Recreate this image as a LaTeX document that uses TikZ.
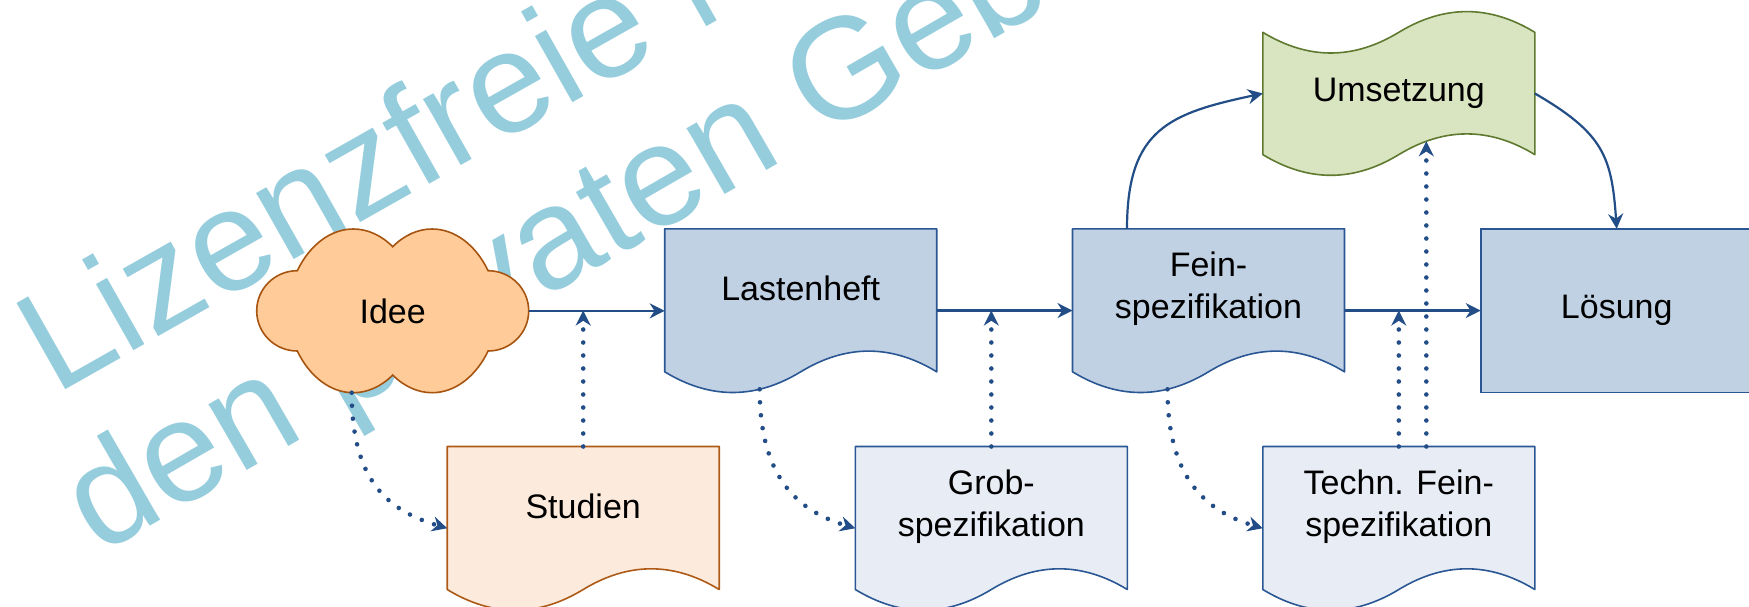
\documentclass[tikz,border=0pt]{standalone}
\usepackage{fontspec}
\setmainfont{Liberation Sans}
\usetikzlibrary{arrows.meta,calc}

\definecolor{link}{HTML}{224D86}
\definecolor{docfill}{HTML}{C1D1E4}
\definecolor{docline}{HTML}{2A5794}
\definecolor{paler}{HTML}{E8EDF5}
\definecolor{studfill}{HTML}{FCEBDC}
\definecolor{studline}{HTML}{AE5A16}
\definecolor{cloudfill}{HTML}{FFCB98}
\definecolor{cloudline}{HTML}{A65410}
\definecolor{tapefill}{HTML}{D9E4C1}
\definecolor{tapeline}{HTML}{5F7A2F}
\definecolor{wmark}{HTML}{95CDDD}

% document symbol: flat top, wavy bottom (272 x 163.7 px)
\newcommand\docshape[2]{%
  \path[#2,shift={(#1.north west)}] (0,0) -- (272,0) -- (272,143)
    .. controls (226.67,115.4) and (181.33,115.4) .. (136,143)
    .. controls (90.67,170.6) and (45.33,170.6) .. (0,143) -- cycle;}

\begin{document}
\begin{tikzpicture}[x=0.5pt,y=-0.5pt,
  slot/.style={minimum width=136pt,inner sep=0pt,outer sep=0pt},
  txt/.style={font=\fontsize{17}{20.8}\selectfont,align=center,inner sep=0pt},
  wm/.style={text=wmark,font=\fontsize{72}{86}\selectfont,inner sep=0pt,anchor=base west},
  blue doc/.style={fill=docfill,draw=docline,line width=0.8pt,line join=round},
  pale doc/.style={fill=paler,draw=docline,line width=0.8pt,line join=round},
  orange doc/.style={fill=studfill,draw=studline,line width=0.8pt,line join=round},
  flow/.style={draw=link,line width=1.1pt,-{Stealth[length=7.5pt,width=7.5pt,inset=2.4pt]}},
  hint/.style={draw=link,line width=2.3pt,line cap=round,dash pattern=on 0pt off 6.5pt,
               -{Stealth[length=7.5pt,width=7.5pt,inset=2.4pt]}},
]
\useasboundingbox (0,0) rectangle (1749,606);
\clip (0,0) rectangle (1749,606);

% background lettering
\node[wm,rotate=29.5] (wm1) at (55.6,395.2) {Lizenzfreie Nutzung};
\node[wm,rotate=30] (wm2) at (99,556) {den privaten Gebrauch};

% placeholders that carry the geometry of every symbol
\node[slot,minimum height=81.85pt] (idee) at (392.7,310.85) {};
\node[slot,minimum height=81.75pt] (last) at (800.7,310.55) {};
\node[slot,minimum height=81.75pt] (fein) at (1208.5,310.55) {};
\node[slot,minimum height=81.75pt] (stud) at (583.2,528.25) {};
\node[slot,minimum height=81.75pt] (grob) at (991.3,528.25) {};
\node[slot,minimum height=81.75pt] (tech) at (1398.8,528.25) {};
\node[slot,minimum height=84.15pt] (ums) at (1398.8,93.45) {};
\node[slot,minimum height=81.75pt,fill=docfill,draw=docline,line width=0.8pt,
      font=\fontsize{17}{20.8}\selectfont] (loes) at (1616.7,310.55) {Lösung};

% cloud
\path[fill=cloudfill,draw=cloudline,line width=0.8pt,shift={(idee.north west)}]
  (40.6,41.7) .. controls (53.17,15.59) and (74.2,0) .. (96.6,0)
  .. controls (110.7,0) and (124.53,6.15) .. (136,17.7)
  .. controls (147.47,6.15) and (161.3,0) .. (175.4,0)
  .. controls (197.8,0) and (218.83,15.59) .. (231.4,41.7)
  .. controls (253.82,41.7) and (272,59.7) .. (272,81.85)
  .. controls (272,104) and (253.82,122) .. (231.4,122)
  .. controls (218.83,148.11) and (197.8,163.7) .. (175.4,163.7)
  .. controls (161.3,163.7) and (147.47,157.55) .. (136,146)
  .. controls (124.53,157.55) and (110.7,163.7) .. (96.6,163.7)
  .. controls (74.2,163.7) and (53.17,148.11) .. (40.6,122)
  .. controls (18.18,122) and (0,104) .. (0,81.85)
  .. controls (0,59.7) and (18.18,41.7) .. (40.6,41.7) -- cycle;

% documents
\docshape{last}{blue doc}
\docshape{fein}{blue doc}
\docshape{stud}{orange doc}
\docshape{grob}{pale doc}
\docshape{tech}{pale doc}

% punched tape
\path[fill=tapefill,draw=tapeline,line width=0.8pt,line join=round,shift={(ums.north west)}]
  (0,23) .. controls (45.33,50.6) and (90.67,50.6) .. (136,23)
  .. controls (181.33,-4.6) and (226.67,-4.6) .. (272,23)
  -- (272,145.3) .. controls (226.67,117.7) and (181.33,117.7) .. (136,145.3)
  .. controls (90.67,172.9) and (45.33,172.9) .. (0,145.3) -- cycle;

% labels
\node[txt] (ideeT) at (idee.center) {Idee};
\node[txt] (lastT) at ($(last.north)+(0,60)$) {Lastenheft};
\node[txt] (feinT) at ($(fein.north)+(0,60)$) {Fein-\\spezifikation};
\node[txt] (studT) at ($(stud.north)+(0,60)$) {Studien};
\node[txt] (grobT) at ($(grob.north)+(0,60)$) {Grob-\\spezifikation};
\node[txt] (techT) at ($(tech.north)+(0,60)$) {Techn. Fein-\\spezifikation};
\node[txt] (umsT) at (ums.center) {Umsetzung};

% main flow
\draw[flow] (idee.east) -- (idee.east -| last.west);
\draw[flow] (last.east) -- (fein.west);
\draw[flow] (fein.east) -- (loes.west);
\coordinate (feinTop) at ($(fein.north west)+(54.5,0)$);
\draw[flow] (feinTop) .. controls +(0,-100) and +(-93,19.8) .. (ums.west);
\draw[flow] (ums.east) .. controls +(69,40) and +(-5,-72) .. (loes.north);

% supporting documents
\coordinate (ideeLow) at ($(idee.south west)+(95,0)$);
\coordinate (lastLow) at ($(last.south west)+(95,-3)$);
\coordinate (feinLow) at ($(fein.south west)+(95,-3)$);
\draw[hint] (ideeLow) .. controls +(0,88) and +(-59.5,-17.6) .. (stud.west);
\draw[hint] (lastLow) .. controls +(0,86) and +(-59.5,-17.6) .. (grob.west);
\draw[hint] (feinLow) .. controls +(0,86) and +(-59.5,-17.6) .. (tech.west);
\draw[hint] (stud.north) -- (stud.north |- last.west);
\draw[hint] (grob.north) -- (grob.north |- last.east);
\draw[hint] (tech.north) -- (tech.north |- fein.east);
\coordinate (techUp) at ($(tech.north)+(27.5,0)$);
\coordinate (umsLow) at ($(ums.south west)+(163.5,-36.3)$);
\draw[hint] (techUp) -- (umsLow);
\end{tikzpicture}
\end{document}
